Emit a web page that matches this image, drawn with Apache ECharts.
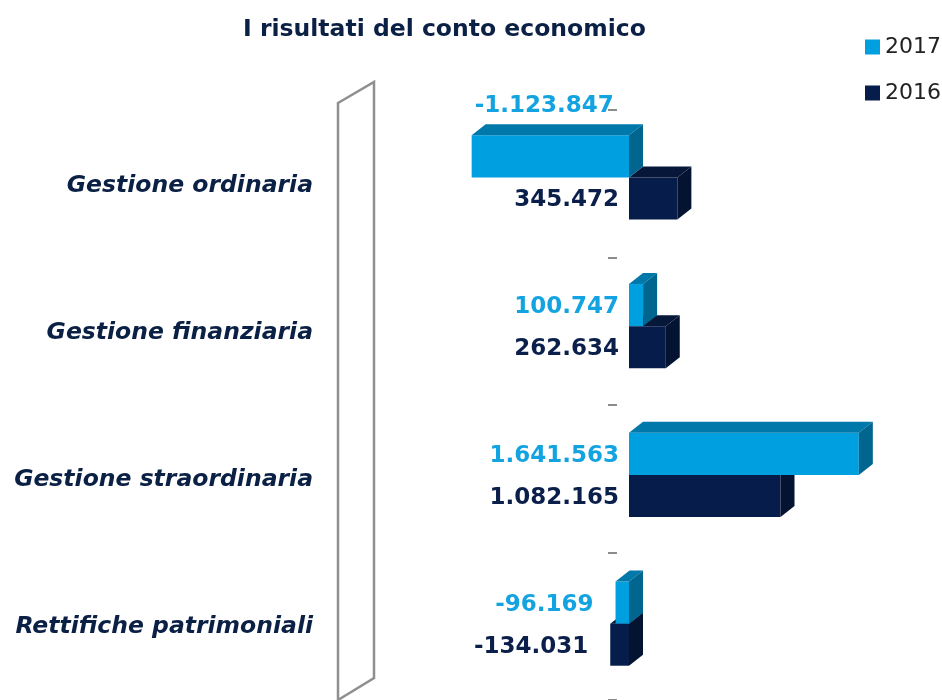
<!DOCTYPE html>
<html>
<head>
<meta charset="utf-8">
<script src="https://cdn.jsdelivr.net/npm/echarts@6/dist/echarts.min.js"></script>
<style>html,body{margin:0;padding:0;background:#fff}#c{width:942px;height:700px}</style>
</head>
<body>
<div id="c"></div>
<script>
const categories = ['Gestione ordinaria', 'Gestione finanziaria', 'Gestione straordinaria', 'Rettifiche patrimoniali'];
const values2017 = [-1123847, 100747, 1641563, -96169];
const values2016 = [345472, 262634, 1082165, -134031];
const seriesNames = ['2017', '2016'];

const pal2017 = ['#009FDF', '#0079AA', '#006690'];
const pal2016 = ['#061D4B', '#06173A', '#041331'];
const lbl2017 = '#12A3E0';
const lbl2016 = '#0B1F4B';
const navy = '#0B2045';
const FONT = 'DejaVu Sans';

function fmt(v) {
  const s = Math.abs(v).toString().replace(/\B(?=(\d{3})+(?!\d))/g, '.');
  return (v < 0 ? '-' : '') + s;
}

function makeRender(first, pal, labelColor) {
  return function (params, api) {
    const cat = api.value(1), val = api.value(0);
    const p0 = api.coord([0, cat]);
    const p1 = api.coord([val, cat]);
    const band = api.size([0, 1])[1];
    const h = band * 0.283;
    const yT = first ? p0[1] - h : p0[1];
    const yB = yT + h;
    const xL = Math.min(p0[0], p1[0]);
    const xR = Math.max(p0[0], p1[0]);
    const dx = 14, dy = 11;
    const children = [
      { type: 'rect', shape: { x: xL, y: yT, width: xR - xL, height: h }, style: { fill: pal[0] } },
      { type: 'polygon', shape: { points: [[xL, yT], [xL + dx, yT - dy], [xR + dx, yT - dy], [xR, yT]] }, style: { fill: pal[1] } },
      { type: 'polygon', shape: { points: [[xR, yT], [xR + dx, yT - dy], [xR + dx, yB - dy], [xR, yB]] }, style: { fill: pal[2] } }
    ];
    const len = xR - xL;
    let lx, ly, align;
    if (val < 0 && len > 140) {
      lx = (xL + xR) / 2 - 6; ly = yT - dy - 18; align = 'center';
    } else {
      lx = xL - (val < 0 ? 22 : 10); ly = (yT + yB) / 2 + 2; align = 'right';
    }
    children.push({
      type: 'text',
      style: {
        text: fmt(val), x: lx, y: ly, align: align, verticalAlign: 'middle',
        fill: labelColor, fontFamily: FONT, fontWeight: 'bold', fontSize: 23
      }
    });
    return { type: 'group', children: children };
  };
}

const chart = echarts.init(document.getElementById('c'));
chart.setOption({
  animation: false,
  backgroundColor: '#fff',
  title: {
    text: 'I risultati del conto economico',
    left: 238, top: 13,
    textStyle: { fontFamily: FONT, fontWeight: 'bold', fontSize: 23.5, color: navy }
  },
  legend: {
    data: seriesNames,
    orient: 'vertical',
    left: 860, top: 31,
    itemWidth: 15, itemHeight: 15, itemGap: 24,
    icon: 'rect',
    textStyle: { fontFamily: FONT, fontSize: 22, color: '#222' }
  },
  graphic: [{
    type: 'polygon',
    shape: { points: [[338, 103], [374, 82], [374, 678], [338, 700]] },
    style: { fill: 'none', stroke: '#8F8F8F', lineWidth: 2.5 },
    z: 0
  }],
  grid: [
    { left: 419, width: 490, top: 103, height: 595 },
    { left: 419, width: 490, top: 110, height: 595 },
    { left: 419, width: 490, top: 113, height: 595 }
  ],
  xAxis: [
    { type: 'value', min: -1500000, max: 2000000, show: false, gridIndex: 0 },
    { type: 'value', min: -1500000, max: 2000000, show: false, gridIndex: 1 },
    { type: 'value', min: -1500000, max: 2000000, show: false, gridIndex: 2 }
  ],
  yAxis: [
    {
      type: 'category', data: categories, inverse: true, gridIndex: 0, show: false
    },
    {
      type: 'category', data: categories, inverse: true, gridIndex: 1,
      position: 'left', offset: -198,
      axisLine: { show: false, onZero: false },
      axisLabel: { show: false },
      axisTick: { show: true, length: 9, lineStyle: { color: '#8C8C8C', width: 2 } }
    },
    {
      type: 'category', data: categories, inverse: true, gridIndex: 2,
      position: 'left',
      axisLine: { show: false, onZero: false }, axisTick: { show: false },
      axisLabel: {
        margin: 106, fontFamily: FONT, fontWeight: 'bold', fontStyle: 'italic',
        fontSize: 23.5, color: navy
      }
    }
  ],
  series: [
    {
      name: '2016', type: 'custom', clip: false,
      itemStyle: { color: pal2016[0] },
      encode: { x: 0, y: 1 },
      renderItem: makeRender(false, pal2016, lbl2016),
      data: values2016.map((v, i) => [v, i])
    },
    {
      name: '2017', type: 'custom', clip: false,
      itemStyle: { color: pal2017[0] },
      encode: { x: 0, y: 1 },
      renderItem: makeRender(true, pal2017, lbl2017),
      data: values2017.map((v, i) => [v, i])
    }
  ]
});
</script>
</body>
</html>
